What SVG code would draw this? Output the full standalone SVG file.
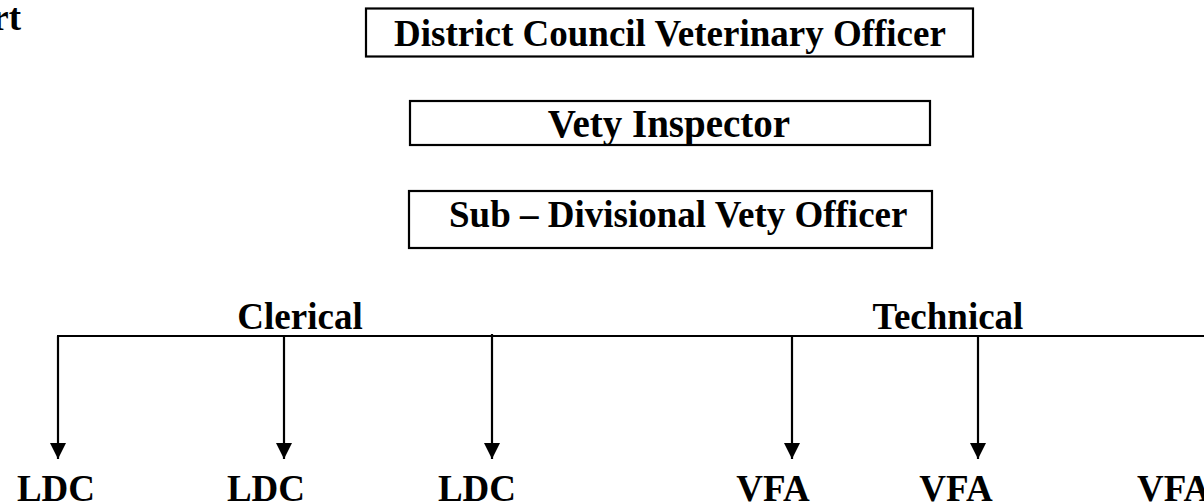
<svg xmlns="http://www.w3.org/2000/svg" width="1204" height="503" viewBox="0 0 1204 503">
  <style>
    text { font-family: "Liberation Serif", "Times New Roman", serif; font-weight: bold; font-size: 37px; fill: #000; }
    .box { fill: #fff; stroke: #000; stroke-width: 2.2; }
    .wire { stroke: #000; stroke-width: 2.2; fill: none; }
  </style>
  <defs>
    <marker id="arrow" markerUnits="userSpaceOnUse" markerWidth="16" markerHeight="16" refX="16" refY="8" orient="auto">
      <path d="M0,0 L16,8 L0,16 Z" fill="#000"/>
    </marker>
  </defs>
  <rect width="1204" height="503" fill="#fff"/>

  <text x="21" y="30" text-anchor="end">rt</text>

  <g id="dcvo">
    <rect class="box" x="366" y="8.5" width="607" height="48"/>
    <text x="670" y="46" text-anchor="middle">District Council Veterinary Officer</text>
  </g>
  <g id="vety-inspector">
    <rect class="box" x="410" y="101" width="520" height="44"/>
    <text x="669" y="137" text-anchor="middle" style="font-size:39px">Vety Inspector</text>
  </g>
  <g id="sdvo">
    <rect class="box" x="409" y="191" width="523" height="57"/>
    <text x="449" y="227">Sub – Divisional Vety Officer</text>
  </g>

  <g id="clerical"><text x="300" y="329" text-anchor="middle">Clerical</text></g>
  <g id="technical"><text x="948" y="329" text-anchor="middle">Technical</text></g>

  <g id="connectors">
    <line class="wire" x1="57" y1="336" x2="1204" y2="336"/>
    <line class="wire" x1="58" y1="336" x2="58" y2="459" marker-end="url(#arrow)"/>
    <line class="wire" x1="284" y1="336" x2="284" y2="459" marker-end="url(#arrow)"/>
    <line class="wire" x1="492" y1="334" x2="492" y2="459" marker-end="url(#arrow)"/>
    <line class="wire" x1="792" y1="336" x2="792" y2="459" marker-end="url(#arrow)"/>
    <line class="wire" x1="978" y1="336" x2="978" y2="459" marker-end="url(#arrow)"/>
  </g>

  <g id="ldc-1"><text x="56" y="501" text-anchor="middle">LDC</text></g>
  <g id="ldc-2"><text x="266" y="501" text-anchor="middle">LDC</text></g>
  <g id="ldc-3"><text x="477" y="501" text-anchor="middle">LDC</text></g>
  <g id="vfa-1"><text x="773" y="501" text-anchor="middle">VFA</text></g>
  <g id="vfa-2"><text x="956" y="501" text-anchor="middle">VFA</text></g>
  <g id="vfa-3"><text x="1137" y="501">VFA</text></g>
</svg>
